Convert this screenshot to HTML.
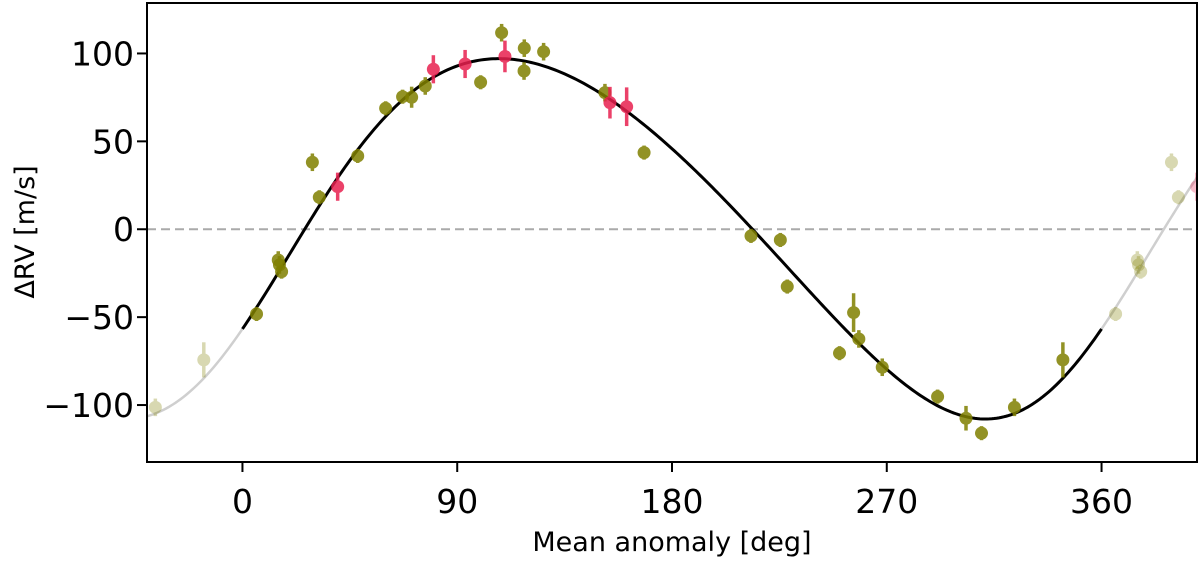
<!DOCTYPE html>
<html><head><meta charset="utf-8"><style>
html,body{margin:0;padding:0;background:#fff;}
svg text{font-family:"DejaVu Sans","Liberation Sans",sans-serif;fill:#000;}
</style></head><body>
<svg id="chart" width="1200" height="558" viewBox="0 0 1200 558" xmlns="http://www.w3.org/2000/svg">
<defs><clipPath id="plotclip"><rect x="147" y="3" width="1050" height="459"/></clipPath></defs>
<g id="grid"></g>
<g id="marks" clip-path="url(#plotclip)"></g>
<rect x="147" y="3" width="1050" height="459" fill="none" stroke="#000" stroke-width="2"/>
<g id="axes"></g>
<text x="672" y="551" font-size="27" text-anchor="middle">Mean anomaly [deg]</text>
<text transform="translate(34,232) rotate(-90)" font-size="27" text-anchor="middle">ΔRV [m/s]</text>
</svg>
<script>
const phases = [5.9,15.0,15.5,16.4,29.3,32.2,39.9,48.3,60.0,67.1,70.9,76.6,80.0,93.3,99.8,108.6,110.0,118.1,118.0,126.2,151.9,154.0,161.0,168.3,213.1,225.4,228.3,250.2,256.1,258.3,268.1,291.3,303.2,309.7,323.5,343.8];
const rvValues = [-48.2,-17.5,-20.3,-24.1,38.1,18.2,24.2,41.7,68.8,75.4,75.1,81.5,91.0,94.0,83.6,111.8,98.3,103.0,90.0,101.0,77.7,72.0,69.7,43.6,-3.8,-6.1,-32.6,-70.5,-47.4,-62.4,-78.5,-95.2,-107.5,-116.0,-101.3,-74.3];
const rvErrors = [4,5,5,4,5,4,8,4,4,4,6,5,8,8,4,5,9,5,5,5,5,9,11,4,4,4,4,4,11,5,5,4,7,4,5,10];
const instrument = ["A","A","A","A","A","A","B","A","A","A","A","A","B","B","A","A","B","A","A","A","A","B","B","A","A","A","A","A","A","A","A","A","A","A","A","A"];
const xTicks = [0,90,180,270,360];
const yTicks = [-100,-50,0,50,100];
const orbitK = 102.5, orbitE = 0.12, orbitOmega = -120, orbitGamma = 0.7;

const X0=147,X1=1197,Y0=3,Y1=462, XMIN=-40,XMAX=400, YMIN=-132.4,YMAX=128.7;
const sx=v=>X0+(v-XMIN)/(XMAX-XMIN)*(X1-X0);
const sy=v=>Y1-(v-YMIN)/(YMAX-YMIN)*(Y1-Y0);
const NS="http://www.w3.org/2000/svg";
function mk(tag,attrs,parent){const e=document.createElementNS(NS,tag);for(const k in attrs)e.setAttribute(k,attrs[k]);parent.appendChild(e);return e;}
const marks=document.getElementById('marks'), axes=document.getElementById('axes');

function model(Mdeg){
  const M=Mdeg*Math.PI/180;let E=M;
  for(let i=0;i<30;i++)E=E-(E-orbitE*Math.sin(E)-M)/(1-orbitE*Math.cos(E));
  const nu=2*Math.atan2(Math.sqrt(1+orbitE)*Math.sin(E/2),Math.sqrt(1-orbitE)*Math.cos(E/2));
  const w=orbitOmega*Math.PI/180;
  return orbitK*(Math.cos(nu+w)+orbitE*Math.cos(w))+orbitGamma;
}
const zl=mk('line',{x1:X0,x2:X1,y1:sy(0),y2:sy(0),stroke:'#aaa','stroke-width':2,'stroke-dasharray':'9,5'},marks);


function curve(a,b,color,w,name){
  let d='';for(let m=a;m<=b+1e-9;m+=1){d+=(d?'L':'M')+sx(m).toFixed(2)+','+sy(model(m)).toFixed(2);}
  const p=mk('path',{d:d,fill:'none',stroke:color,'stroke-width':w},marks);
  
  
}
curve(-40,0,'#cfcfcf',2.5,'model-curve-wrap-left');
curve(360,400,'#cfcfcf',2.5,'model-curve-wrap-right');
curve(0,360,'#000',3,'model-curve');
function point(ph,v,err,inst,faded){
  const col=inst==='B'?'#e8204f':'#808000';
  const g=mk('g',{opacity:faded?0.3:0.85},marks);
  
  
  mk('line',{x1:sx(ph),x2:sx(ph),y1:sy(v-err),y2:sy(v+err),stroke:col,'stroke-width':3.5},g);
  mk('circle',{cx:sx(ph),cy:sy(v),r:6.5,fill:col},g);
}
for(let i=0;i<phases.length;i++){
  point(phases[i],rvValues[i],rvErrors[i],instrument[i],false);
  if(phases[i]-360>=XMIN)point(phases[i]-360,rvValues[i],rvErrors[i],instrument[i],true);
  if(phases[i]+360<=XMAX+2)point(phases[i]+360,rvValues[i],rvErrors[i],instrument[i],true);
}
xTicks.forEach(t=>{
  const l=mk('line',{x1:sx(t),x2:sx(t),y1:Y1,y2:Y1+10,stroke:'#000','stroke-width':2},axes);
  
  
  const tx=mk('text',{x:sx(t),y:513,'font-size':33,'text-anchor':'middle'},axes);tx.textContent=t;
  
  
});
yTicks.forEach(t=>{
  const l=mk('line',{x1:X0-10,x2:X0,y1:sy(t),y2:sy(t),stroke:'#000','stroke-width':2},axes);
  
  
  const tx=mk('text',{x:134,y:sy(t)+12,'font-size':33,'text-anchor':'end'},axes);tx.textContent=(t<0?'\u2212'+(-t):t);
  
  
});
</script>
</body></html>
